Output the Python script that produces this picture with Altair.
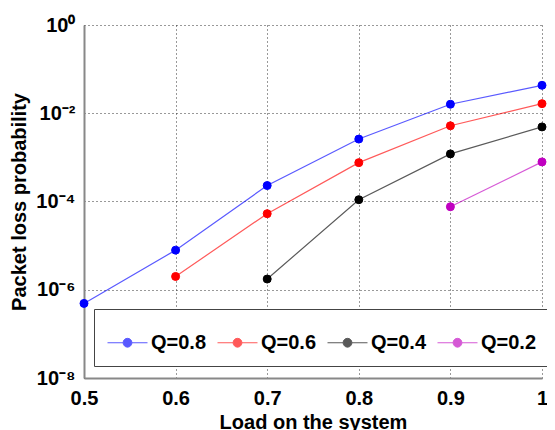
import altair as alt
import pandas as pd
import math

# ---- data ----
x_load = [0.5, 0.6, 0.7, 0.8, 0.9, 1.0]
q08 = [4.9e-7, 7.9e-6, 2.3e-4, 2.6e-3, 1.6e-2, 4.3e-2]
q06 = [None, 2.0e-6, 5.3e-5, 7.6e-4, 5.2e-3, 1.65e-2]
q04 = [None, None, 1.75e-6, 1.1e-4, 1.2e-3, 4.9e-3]
q02 = [None, None, None, None, 7.6e-5, 7.9e-4]

series_names = ["Q=0.8", "Q=0.6", "Q=0.4", "Q=0.2"]
series_colors = ["#0000ff", "#ff0000", "#000000", "#c000c0"]

x_ticks = [0.5, 0.6, 0.7, 0.8, 0.9, 1.0]
y_ticks = [1e-8, 1e-6, 1e-4, 1e-2, 1.0]
y_tick_labels = ["10\u207b\u2078", "10\u207b\u2076", "10\u207b\u2074", "10\u207b\u00b2", "10\u2070"]

rows = []
for name, vals in zip(series_names, [q08, q06, q04, q02]):
    for x, v in zip(x_load, vals):
        if v is not None:
            rows.append({"load": x, "p": v, "series": name})
df = pd.DataFrame(rows)

# y label expression built from the tick arrays
expr = "''"
for v, lab in zip(y_ticks, y_tick_labels):
    expr = f"abs(log(datum.value)/LN10 - ({math.log10(v)})) < 0.01 ? '{lab}' : ({expr})"

FONT = "Liberation Sans"

xenc = alt.X("load:Q",
             scale=alt.Scale(domain=[0.5, 1.0], nice=False, zero=False),
             axis=alt.Axis(values=x_ticks, format=".1~f", title="Load on the system"))
yenc = alt.Y("p:Q",
             scale=alt.Scale(type="log", domain=[1e-8, 1.0], nice=False),
             axis=alt.Axis(values=y_ticks, labelExpr=expr, title="Packet loss probability"))

cscale = alt.Scale(domain=series_names, range=series_colors)

sym_path = ("M-1,0H-0.22M-0.22,0A0.22,0.22,0,1,1,0.22,0A0.22,0.22,0,1,1,-0.22,0Z"
            "M0.22,0H1")
legend = alt.Legend(
    title=None, orient="none", legendX=10, legendY=284, direction="horizontal",
    columns=4, strokeColor="#444", fillColor="white", padding=13,
    labelFont=FONT, labelFontSize=20, labelFontWeight="bold", labelColor="black",
    symbolType=sym_path, symbolSize=1600, symbolStrokeWidth=1,
    labelOffset=3, columnPadding=8,
)

lines = alt.Chart(df).mark_line(strokeWidth=1.2, opacity=0.65).encode(
    x=xenc, y=yenc,
    stroke=alt.Stroke("series:N", scale=cscale, legend=legend),
    detail="series:N",
)
points = alt.Chart(df).mark_point(filled=True, size=64, opacity=1, strokeWidth=1).encode(
    x=xenc, y=yenc,
    fill=alt.Fill("series:N", scale=cscale, legend=legend),
    stroke=alt.Stroke("series:N", scale=cscale, legend=legend),
)

chart = alt.layer(lines, points).properties(
    width=458, height=353,
    autosize=alt.AutoSizeParams(type="none"),
    padding={"left": 76, "top": 17, "right": 5, "bottom": 54},
).configure_view(stroke=None).configure_axis(
    labelFont=FONT, labelFontSize=20, labelFontWeight="bold", labelColor="black",
    titleFont=FONT, titleFontSize=20, titleFontWeight="bold", titleColor="black",
    grid=True, gridColor="#333", gridDash=[1, 3], gridWidth=1, gridOpacity=1,
    domainColor="#888", domainWidth=2, ticks=False, labelPadding=9,
    titlePadding=6,
).configure_axisX(labelFlush=False, labelPadding=10, titlePadding=4)

chart.save("out.html", embed_options={"renderer": "svg", "actions": False})
